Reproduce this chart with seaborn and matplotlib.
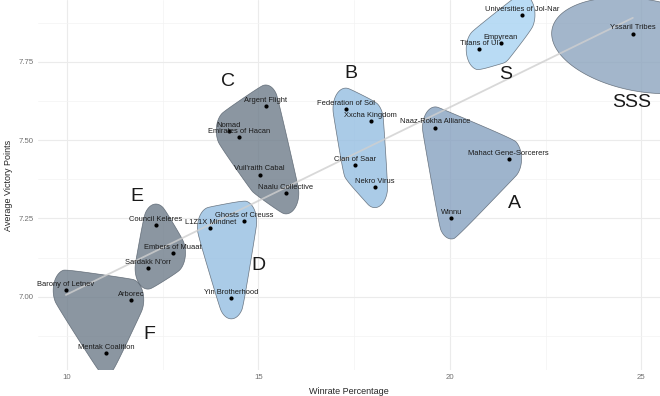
import numpy as np
import pandas as pd
import matplotlib
matplotlib.use("Agg")
import matplotlib.pyplot as plt
import seaborn as sns

# Faction data
factions = ["Barony of Letnev", "Arborec", "Mentak Coalition",
            "Council Keleres", "Embers of Muaat", "Sardakk N'orr",
            "L1Z1X Mindnet", "Ghosts of Creuss", "Yin Brotherhood",
            "Argent Flight", "Nomad", "Emirates of Hacan", "Vuil'raith Cabal", "Naalu Collective",
            "Federation of Sol", "Xxcha Kingdom", "Clan of Saar", "Nekro Virus",
            "Naaz-Rokha Alliance", "Mahact Gene-Sorcerers", "Winnu",
            "Universities of Jol-Nar", "Empyrean", "Titans of Ul",
            "Yssaril Tribes"]
winrate = [9.97, 11.67, 11.01,
           12.32, 12.76, 12.11,
           13.74, 14.62, 14.29,
           15.19, 14.23, 14.49, 15.03, 15.72,
           17.28, 17.93, 17.53, 18.04,
           19.62, 21.54, 20.04,
           21.89, 21.33, 20.76,
           24.78]
avg_vp = [7.02, 6.99, 6.82,
          7.23, 7.14, 7.09,
          7.22, 7.24, 6.995,
          7.61, 7.53, 7.51, 7.39, 7.33,
          7.60, 7.56, 7.42, 7.35,
          7.54, 7.44, 7.25,
          7.90, 7.81, 7.79,
          7.84]
tier = ["F", "F", "F",
        "E", "E", "E",
        "D", "D", "D",
        "C", "C", "C", "C", "C",
        "B", "B", "B", "B",
        "A", "A", "A",
        "S", "S", "S",
        "SSS"]

tiers = ["SSS", "S", "A", "B", "C", "D", "E", "F"]
tier_colors = {"SSS": "#8ca4be", "S": "#a8d3f2", "A": "#86a1c0", "B": "#95bee2",
               "C": "#6e7c8a", "D": "#95bee2", "E": "#6e7c8a", "F": "#6e7c8a"}
# where the big tier letters sit
tier_label_x = [24.74, 21.45, 21.70, 17.41, 14.20, 15.01, 11.82, 12.14]
tier_label_y = [7.619, 7.708, 7.296, 7.713, 7.688, 7.099, 7.321, 6.878]

df = pd.DataFrame({"faction": factions, "winrate": winrate, "avg_vp": avg_vp, "tier": tier})

sns.set_style("white")
plt.rcParams["font.family"] = ["Liberation Sans", "DejaVu Sans"]

fig = plt.figure(figsize=(6.6, 3.96), dpi=100)
ax = fig.add_axes([38 / 660, 26 / 396, 622 / 660, 370 / 396])
ax.set_xlim(9.24, 25.49)
ax.set_ylim(6.766, 7.947)

# grid like theme_minimal
ax.set_xticks([10, 15, 20, 25])
ax.set_yticks([7.00, 7.25, 7.50, 7.75])
ax.set_xticks([12.5, 17.5, 22.5], minor=True)
ax.set_yticks([6.875, 7.125, 7.375, 7.625, 7.875], minor=True)
ax.grid(True, which="major", color="#ebebeb", lw=0.8)
ax.grid(True, which="minor", color="#f3f3f3", lw=0.5)
ax.set_axisbelow(True)
for s in ax.spines.values():
    s.set_visible(False)
ax.tick_params(which="both", length=0, labelsize=5.6, labelcolor="#707070", pad=3)
ax.set_yticklabels(["7.00", "7.25", "7.50", "7.75"])
fig.canvas.draw()


def chaikin(pts, n=4):
    for _ in range(n):
        nxt = np.roll(pts, -1, axis=0)
        q = 0.75 * pts + 0.25 * nxt
        r = 0.25 * pts + 0.75 * nxt
        pts = np.empty((2 * len(q), 2))
        pts[0::2] = q
        pts[1::2] = r
    return pts


def hull(pts):
    pts = sorted(map(tuple, pts))
    def cross(o, a, b):
        return (a[0] - o[0]) * (b[1] - o[1]) - (a[1] - o[1]) * (b[0] - o[0])
    lower, upper = [], []
    for p in pts:
        while len(lower) >= 2 and cross(lower[-2], lower[-1], p) <= 0:
            lower.pop()
        lower.append(p)
    for p in reversed(pts):
        while len(upper) >= 2 and cross(upper[-2], upper[-1], p) <= 0:
            upper.pop()
        upper.append(p)
    return np.array(lower[:-1] + upper[:-1])


ang = np.linspace(0, 2 * np.pi, 16, endpoint=False)
to_px = ax.transData
to_data = ax.transData.inverted()
for t in tiers:
    sub = df[df["tier"] == t]
    px = to_px.transform(sub[["winrate", "avg_vp"]].values)
    if len(sub) == 1:
        # lone faction: wide tilted blob (pixel space, y up)
        rot = np.deg2rad(-10)
        ex, ey = 94 * np.cos(ang), 47 * np.sin(ang)
        ring = np.column_stack([ex * np.cos(rot) - ey * np.sin(rot),
                                ex * np.sin(rot) + ey * np.cos(rot)]) + px[0] + [10, -12]
    else:
        ring = np.vstack([p + np.column_stack([13 * np.cos(ang), 21 * np.sin(ang)]) for p in px])
    shape = chaikin(hull(ring), 4)
    poly = to_data.transform(shape)
    ax.fill(poly[:, 0], poly[:, 1], facecolor=tier_colors[t], alpha=0.8,
            edgecolor="#4f5a66", lw=0.5, zorder=1)

# linear trend
sns.regplot(data=df, x="winrate", y="avg_vp", scatter=False, ci=None, ax=ax,
            line_kws={"color": "#cfcfcf", "lw": 1.3, "alpha": 0.8, "zorder": 2})
ax.set_xlim(9.24, 25.49)
ax.set_ylim(6.766, 7.947)

sns.scatterplot(data=df, x="winrate", y="avg_vp", color="black", s=9, linewidth=0,
                ax=ax, zorder=3)

for f, x, y in zip(factions, winrate, avg_vp):
    ax.annotate(f, (x, y), xytext=(0, 4), textcoords="offset points",
                ha="center", va="center", fontsize=5.4, color="#1a1a1a", zorder=4)

for t, x, y in zip(tiers, tier_label_x, tier_label_y):
    ax.text(x, y, t, ha="center", va="center", fontsize=14, color="#1a1a1a", zorder=4)

ax.set_xlabel("Winrate Percentage", fontsize=6.5, labelpad=4)
ax.set_ylabel("Average Victory Points", fontsize=6.5, labelpad=4)

fig.savefig("out.png", dpi=100)
